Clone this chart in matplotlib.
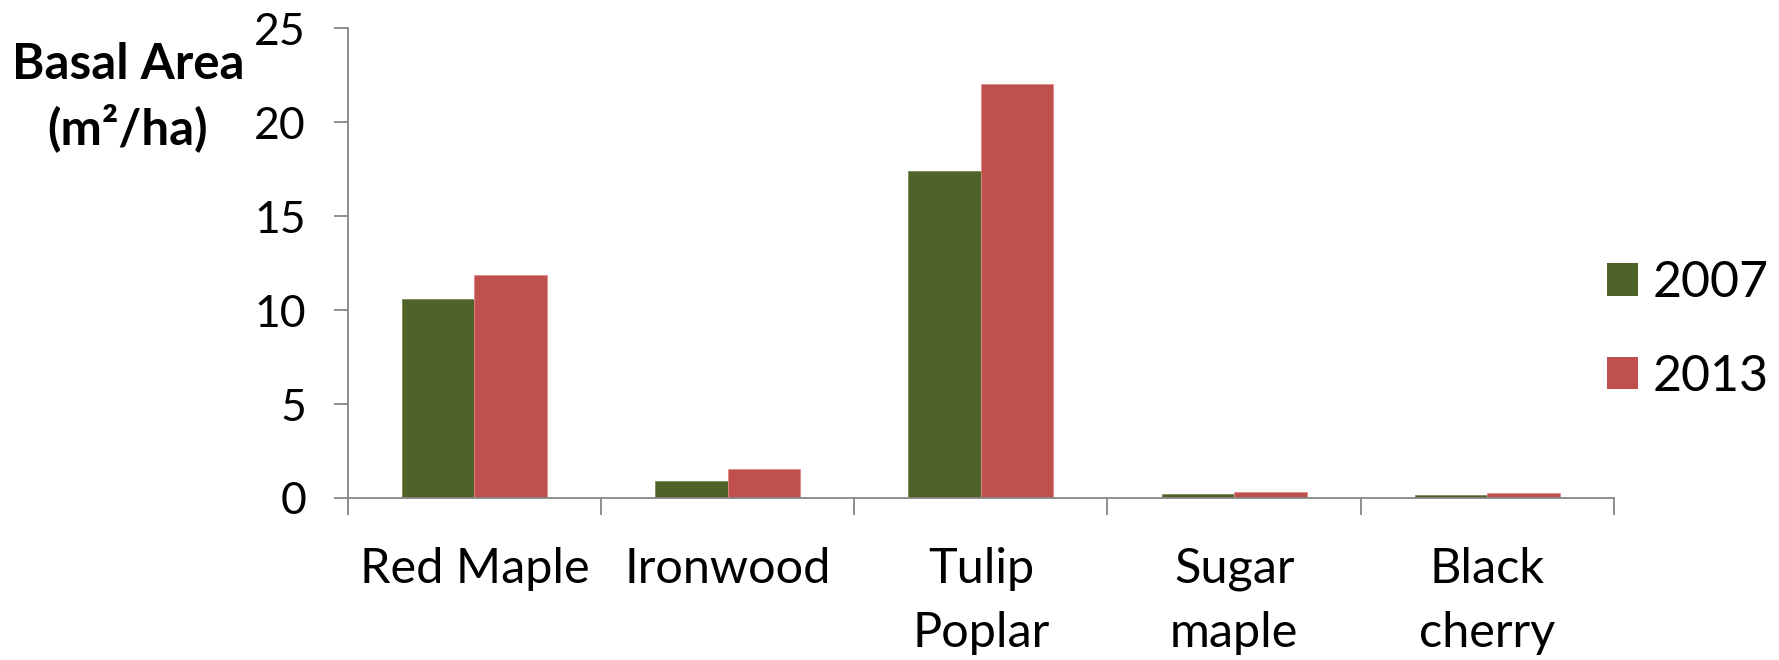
import matplotlib
matplotlib.use("Agg")
import matplotlib.pyplot as plt
from matplotlib.patches import Patch
import numpy as np

plt.rcParams['font.family'] = ['Lato', 'DejaVu Sans']

categories = ["Red Maple", "Ironwood", "Tulip\nPoplar", "Sugar\nmaple", "Black\ncherry"]
series_names = ["2007", "2013"]
values_2007 = [10.57, 0.89, 17.39, 0.20, 0.18]
values_2013 = [11.88, 1.53, 22.04, 0.33, 0.28]
y_ticks = [0, 5, 10, 15, 20, 25]
colors = ["#4F6228", "#C0504D"]

W, H = 1779, 660
fig = plt.figure(figsize=(W / 100, H / 100), dpi=100)
ax = fig.add_axes([347.7 / W, 1 - 498 / H, (1614 - 347.7) / W, (498 - 28.3) / H])

x = np.arange(len(categories)) + 0.5
bw = 0.286
ax.bar(x - bw / 2, values_2007, bw, color=colors[0], edgecolor="#7a8a5a", linewidth=0.6, label=series_names[0], zorder=2)
ax.bar(x + bw / 2, values_2013, bw, color=colors[1], edgecolor="#e08a88", linewidth=0.6, label=series_names[1], zorder=2)

ax.set_xlim(0, len(categories))
ax.set_ylim(0, 25)
ax.set_yticks(y_ticks)
ax.set_yticklabels([str(t) for t in y_ticks], fontsize=32)

ax.set_xticks(np.arange(len(categories) + 1))
ax.set_xticklabels([])
ax.set_xticks(x, minor=True)
ax.set_xticklabels(categories, minor=True, fontsize=35, linespacing=1.58, va='top')

axis_col = "#868686"
for s in ["top", "right"]:
    ax.spines[s].set_visible(False)
for s in ["left", "bottom"]:
    ax.spines[s].set_color(axis_col)
    ax.spines[s].set_linewidth(1.3)
ax.tick_params(axis='y', which='major', length=10, width=1.3, color=axis_col, pad=20)
ax.tick_params(axis='x', which='major', length=12, width=1.3, color=axis_col, direction='out')
ax.tick_params(axis='x', which='minor', length=0, pad=35)

fig.text(128 / W, 1 - 97 / H, "Basal Area\n(m²/ha)", ha='center', va='center',
         fontsize=35.5, fontweight='bold', multialignment='center', linespacing=1.4)

handles = [Patch(facecolor=colors[0]), Patch(facecolor=colors[1])]
fig.legend(handles, series_names, loc='center left', bbox_to_anchor=(1607 / W, 1 - 330 / H),
           frameon=False, fontsize=36, handlelength=0.62, handleheight=0.62,
           labelspacing=0.95, handletextpad=0.3, borderpad=0, borderaxespad=0)

fig.savefig("out.png", dpi=100)
